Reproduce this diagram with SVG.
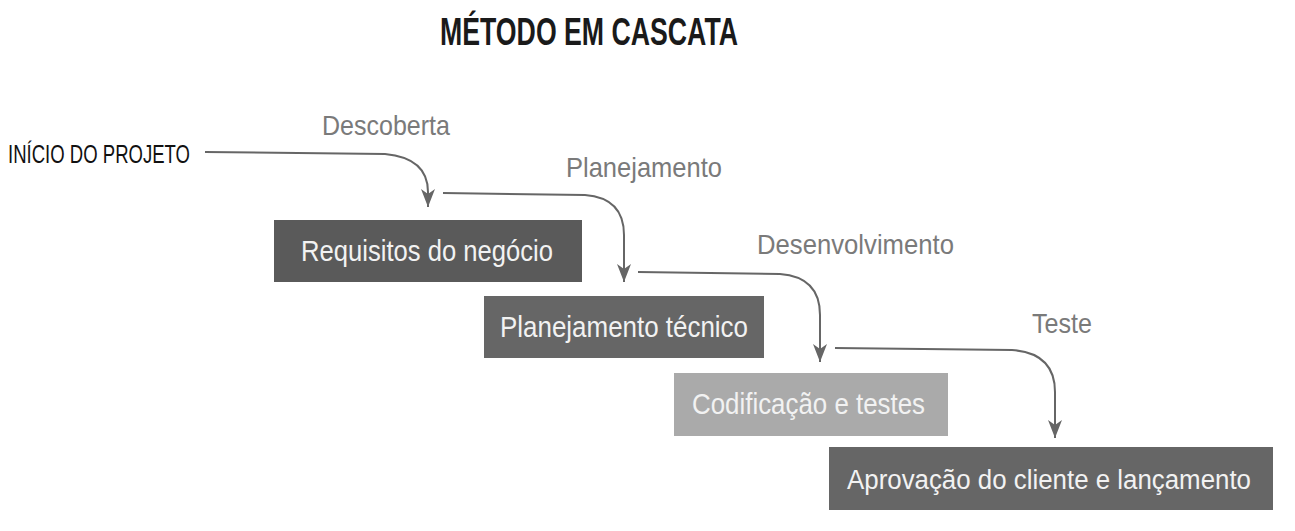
<svg xmlns="http://www.w3.org/2000/svg" width="1295" height="531" viewBox="0 0 1295 531">
<defs>
<marker id="ah" viewBox="0 0 18 14" refX="18" refY="7" markerWidth="18" markerHeight="14" markerUnits="userSpaceOnUse" orient="auto">
<path d="M0,0 L18,7 L0,14 L5,7 Z" fill="#666"/>
</marker>
<style>
text{font-family:"Liberation Sans",Arial,sans-serif;}
.title{font-size:38px;font-weight:bold;fill:#1a1a1a;}
.start{font-size:25px;fill:#111;}
.phase{font-size:28px;fill:#7a7a7a;}
.box{font-size:29px;fill:#f2f2f2;}
.conn{fill:none;stroke:#666;stroke-width:2;}
</style>
</defs>
<rect width="1295" height="531" fill="#fff"/>
<text class="title" x="589" y="45" text-anchor="middle" textLength="298" lengthAdjust="spacingAndGlyphs">MÉTODO EM CASCATA</text>
<g id="inicio"><text class="start" x="8" y="163" textLength="182" lengthAdjust="spacingAndGlyphs">INÍCIO DO PROJETO</text></g>
<g id="labels">
<text class="phase" x="322" y="135" textLength="128" lengthAdjust="spacingAndGlyphs">Descoberta</text>
<text class="phase" x="566" y="177" textLength="156" lengthAdjust="spacingAndGlyphs">Planejamento</text>
<text class="phase" x="757" y="254" textLength="197" lengthAdjust="spacingAndGlyphs">Desenvolvimento</text>
<text class="phase" x="1032" y="333" textLength="60" lengthAdjust="spacingAndGlyphs">Teste</text>
</g>
<g id="connectors">
<path class="conn" marker-end="url(#ah)" d="M205,152 L385,154 Q428,158 428,192 L428,207"/>
<path class="conn" marker-end="url(#ah)" d="M443,193 L585,195 Q624,198 624,235 L624,282"/>
<path class="conn" marker-end="url(#ah)" d="M638,272 L780,274 Q820,277 820,315 L820,362"/>
<path class="conn" marker-end="url(#ah)" d="M835,348 L1012,350 Q1055,353 1055,392 L1055,438"/>
</g>
<g id="n1">
<rect x="274" y="220" width="308" height="62" fill="#5a5a5a"/>
<text class="box" x="301" y="261" textLength="252" lengthAdjust="spacingAndGlyphs">Requisitos do negócio</text>
</g>
<g id="n2">
<rect x="484" y="296" width="280" height="62" fill="#666"/>
<text class="box" x="500" y="337" textLength="248" lengthAdjust="spacingAndGlyphs">Planejamento técnico</text>
</g>
<g id="n3">
<rect x="674" y="373" width="274" height="63" fill="#aaa"/>
<text class="box" x="692" y="414" textLength="233" lengthAdjust="spacingAndGlyphs">Codificação e testes</text>
</g>
<g id="n4">
<rect x="829" y="447" width="444" height="63" fill="#666"/>
<text class="box" x="847" y="489" style="font-size:27px" textLength="404" lengthAdjust="spacingAndGlyphs">Aprovação do cliente e lançamento</text>
</g>
</svg>
